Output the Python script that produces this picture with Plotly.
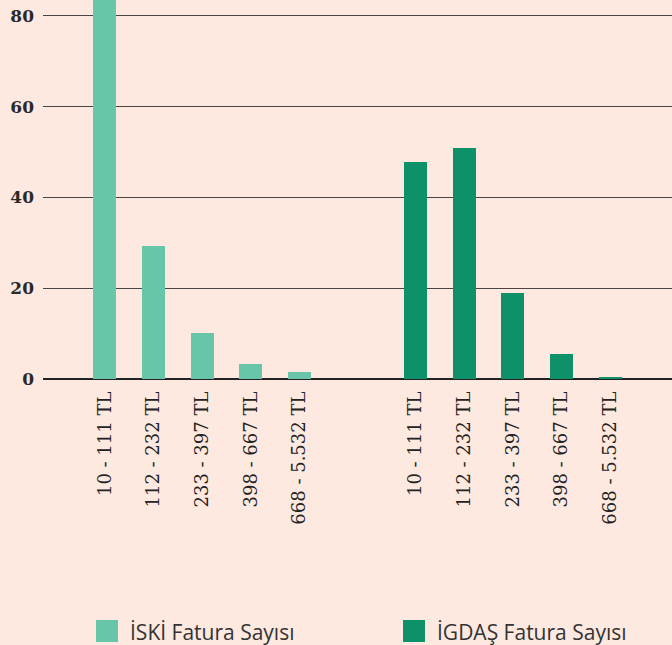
import plotly.graph_objects as go

categories = ["10 - 111 TL", "112 - 232 TL", "233 - 397 TL", "398 - 667 TL", "668 - 5.532 TL"]
iski_values = [86, 29.3, 10.1, 3.3, 1.5]
igdas_values = [47.8, 50.9, 19.0, 5.5, 0.4]
series_names = ["İSKİ Fatura Sayısı", "İGDAŞ Fatura Sayısı"]
series_colors = ["#67c5aa", "#0e9068"]
y_ticks = [0, 20, 40, 60, 80]

BG = "#fde9e0"
W, H = 672, 645
ML, MB = 43, 266
group_offset = 6.38
x_iski = [i for i in range(len(categories))]
x_igdas = [i + group_offset for i in range(len(categories))]

fig = go.Figure()
fig.add_trace(go.Bar(x=x_iski, y=iski_values, name=series_names[0], showlegend=False,
                     marker=dict(color=series_colors[0], line=dict(width=0)), width=0.47))
fig.add_trace(go.Bar(x=x_igdas, y=igdas_values, name=series_names[1], showlegend=False,
                     marker=dict(color=series_colors[1], line=dict(width=0)), width=0.47))

# custom legend (large squares), positioned in paper coordinates
plot_w = W - ML
plot_h = H - MB
def px_x(px):
    return (px - ML) / plot_w
def px_y(py):
    return (H - MB - py) / plot_h

legend_items = [(96, series_names[0], series_colors[0]), (403, series_names[1], series_colors[1])]
shapes = []
annotations = []
for x0, name, col in legend_items:
    shapes.append(dict(type="rect", xref="paper", yref="paper",
                       x0=px_x(x0), x1=px_x(x0 + 22), y0=px_y(642), y1=px_y(620),
                       fillcolor=col, line=dict(width=0)))
    annotations.append(dict(xref="paper", yref="paper", x=px_x(x0 + 32), y=px_y(632),
                            xanchor="left", yanchor="middle", showarrow=False,
                            text=name, font=dict(family="Open Sans", size=21, color="#333333")))

fig.update_layout(
    width=W, height=H,
    paper_bgcolor=BG, plot_bgcolor=BG,
    margin=dict(l=ML, r=0, t=0, b=MB),
    showlegend=False,
    bargap=0,
    shapes=shapes,
    annotations=annotations,
)
fig.update_xaxes(
    range=[-1.27, 4 + group_offset + 1.27],
    tickmode="array",
    tickvals=x_iski + x_igdas,
    ticktext=categories + categories,
    tickangle=-90,
    tickfont=dict(family="DejaVu Serif", size=18, color="#222222"),
    showgrid=False, zeroline=False, showline=False, ticks="",
    ticklabelstandoff=8,
    fixedrange=True,
)
fig.update_yaxes(
    range=[0, 83.5],
    tickvals=y_ticks,
    tickfont=dict(family="DejaVu Serif", size=17, color="#2a2a2a", weight="bold"),
    showgrid=True, gridcolor="#4a4444", gridwidth=1,
    zeroline=True, zerolinecolor="#222222", zerolinewidth=1.5,
    showline=False, ticks="", ticklabelstandoff=8,
    fixedrange=True,
)

fig.write_html("out.html", config={"displayModeBar": False},
               post_script="document.body.style.margin='0';")
